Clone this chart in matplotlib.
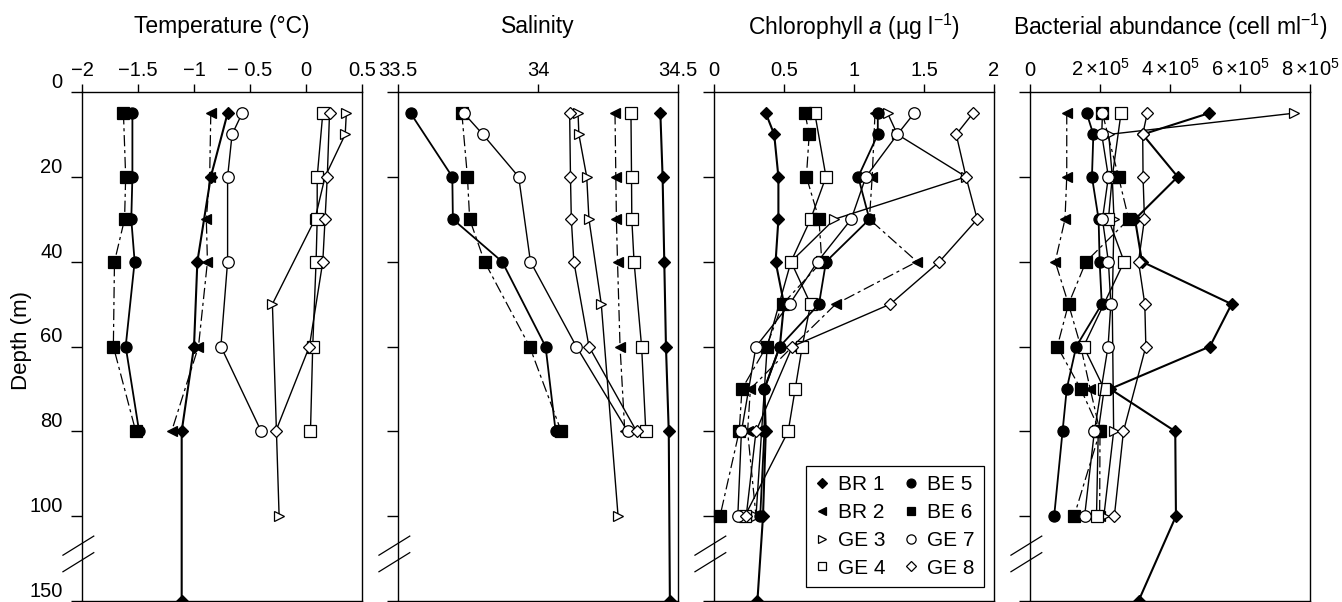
import numpy as np
import matplotlib
matplotlib.use('Agg')
import matplotlib.pyplot as plt
from matplotlib.lines import Line2D
import matplotlib.transforms as mtransforms

plt.rcParams['font.family'] = ['Liberation Sans', 'DejaVu Sans']
plt.rcParams['mathtext.fontset'] = 'custom'
plt.rcParams['mathtext.rm'] = 'Liberation Sans'
plt.rcParams['mathtext.it'] = 'Liberation Sans:italic'
plt.rcParams['axes.unicode_minus'] = True

nan = np.nan

# ---------------- data ----------------
stations = ['BR 1', 'BR 2', 'GE 3', 'GE 4', 'BE 5', 'BE 6', 'GE 7', 'GE 8']
depths = [5, 10, 20, 30, 40, 50, 60, 70, 80, 100, 150]

# Temperature (deg C)
temp_BR1 = [-0.70, nan, -0.85, nan, -0.97, nan, -1.00, nan, -1.11, nan, -1.11]
temp_BR2 = [-0.85, nan, -0.86, -0.89, -0.88, nan, -0.96, nan, -1.20, nan, nan]
temp_GE3 = [0.36, 0.35, 0.17, 0.08, nan, -0.30, nan, nan, nan, -0.24, nan]
temp_GE4 = [0.15, nan, 0.10, 0.10, 0.09, nan, 0.06, nan, 0.04, nan, nan]
temp_BE5 = [-1.55, nan, -1.55, -1.56, -1.53, nan, -1.61, nan, -1.49, nan, nan]
temp_BE6 = [-1.63, nan, -1.61, -1.62, -1.71, nan, -1.72, nan, -1.52, nan, nan]
temp_GE7 = [-0.57, -0.66, -0.70, nan, -0.70, nan, -0.76, nan, -0.40, nan, nan]
temp_GE8 = [0.21, nan, 0.19, 0.17, 0.15, nan, 0.03, nan, -0.27, nan, nan]

# Salinity
sal_BR1 = [34.437, nan, 34.445, nan, 34.451, nan, 34.457, nan, 34.467, nan, 34.471]
sal_BR2 = [34.275, nan, 34.278, 34.280, 34.284, nan, 34.293, nan, 34.310, nan, nan]
sal_GE3 = [34.143, 34.146, 34.174, 34.182, nan, 34.226, nan, nan, nan, 34.286, nan]
sal_GE4 = [34.332, nan, 34.334, 34.335, 34.343, nan, 34.370, nan, 34.385, nan, nan]
sal_BE5 = [33.545, nan, 33.694, 33.696, 33.872, nan, 34.027, nan, 34.063, nan, nan]
sal_BE6 = [33.728, nan, 33.748, 33.756, 33.809, nan, 33.970, nan, 34.083, nan, nan]
sal_GE7 = [33.735, 33.803, 33.931, nan, 33.973, nan, 34.137, nan, 34.320, nan, nan]
sal_GE8 = [34.113, nan, 34.116, 34.119, 34.128, nan, 34.182, nan, 34.352, nan, nan]

# Chlorophyll a (ug/l)
chl_BR1 = [0.37, 0.43, 0.46, 0.46, 0.44, 0.50, 0.47, 0.36, 0.37, 0.35, 0.31]
chl_BR2 = [1.15, nan, 1.13, 1.11, 1.45, 0.87, 0.56, 0.26, 0.24, 0.30, nan]
chl_GE3 = [1.24, 1.31, 1.80, 0.86, 0.55, nan, 0.38, nan, nan, 0.30, nan]
chl_GE4 = [0.72, nan, 0.80, 0.69, 0.55, 0.69, 0.63, 0.58, 0.53, 0.22, nan]
chl_BE5 = [1.17, 1.17, 1.03, 1.11, 0.80, 0.75, 0.47, 0.36, 0.36, 0.33, nan]
chl_BE6 = [0.65, 0.68, 0.66, 0.75, 0.77, 0.49, 0.375, 0.20, 0.18, 0.043, nan]
chl_GE7 = [1.43, 1.31, 1.085, 0.98, 0.74, 0.54, 0.30, nan, 0.196, 0.17, nan]
chl_GE8 = [1.85, 1.73, 1.80, 1.88, 1.61, 1.26, 0.56, nan, 0.30, 0.23, nan]

# Bacterial abundance (cells/ml)
bac_BR1 = [5.11e5, 3.22e5, 4.22e5, 3.0e5, 3.2e5, 5.76e5, 5.14e5, 2.29e5, 4.15e5, 4.17e5, 3.10e5]
bac_BR2 = [1.05e5, nan, 1.05e5, 1.0e5, 0.72e5, 1.10e5, 1.45e5, 1.72e5, 2.0e5, 1.99e5, nan]
bac_GE3 = [7.54e5, 2.25e5, 2.35e5, 2.40e5, nan, 2.35e5, nan, nan, 2.39e5, 2.11e5, nan]
bac_GE4 = [2.60e5, nan, 2.35e5, 2.24e5, 2.69e5, nan, 1.53e5, 2.12e5, 1.95e5, 1.90e5, nan]
bac_BE5 = [1.62e5, 1.81e5, 1.77e5, 1.96e5, 1.99e5, 2.05e5, 1.32e5, 1.05e5, 0.93e5, 0.69e5, nan]
bac_BE6 = [2.07e5, nan, 2.53e5, 2.82e5, 1.60e5, 1.10e5, 0.78e5, 1.45e5, 2.00e5, 1.26e5, nan]
bac_GE7 = [2.07e5, 2.05e5, 2.24e5, 2.07e5, 2.24e5, 2.31e5, 2.23e5, nan, 1.84e5, 1.56e5, nan]
bac_GE8 = [3.35e5, 3.22e5, 3.23e5, 3.27e5, 3.10e5, 3.28e5, 3.31e5, nan, 2.67e5, 2.41e5, nan]

panels = [
    ('Temperature (°C)', [temp_BR1, temp_BR2, temp_GE3, temp_GE4, temp_BE5, temp_BE6, temp_GE7, temp_GE8],
     (-2, 0.5), [-2, -1.5, -1, -0.5, 0, 0.5], ['\u22122', '\u22121.5', '\u22121', '\u2212 0.5', '0', '0.5']),
    ('Salinity', [sal_BR1, sal_BR2, sal_GE3, sal_GE4, sal_BE5, sal_BE6, sal_GE7, sal_GE8],
     (33.5, 34.5), [33.5, 34, 34.5], ['33.5', '34', '34.5']),
    ('Chlorophyll $a$ (µg l$^{\u22121}$)', [chl_BR1, chl_BR2, chl_GE3, chl_GE4, chl_BE5, chl_BE6, chl_GE7, chl_GE8],
     (0, 2), [0, 0.5, 1, 1.5, 2], ['0', '0.5', '1', '1.5', '2']),
    ('Bacterial abundance (cell ml$^{\u22121}$)', [bac_BR1, bac_BR2, bac_GE3, bac_GE4, bac_BE5, bac_BE6, bac_GE7, bac_GE8],
     (0, 8e5), [0, 2e5, 4e5, 6e5, 8e5],
     ['0', r'$2\times\!10^{5}$', r'$4\times\!10^{5}$', r'$6\times\!10^{5}$', r'$8\times\!10^{5}$']),
]

depth_ticks = [0, 20, 40, 60, 80, 100, 150]

# ---------------- styling ----------------
dash = (0, (9, 3, 2.5, 3))
styles = {
    'BR 1': dict(marker='D', mfc='k', ms=6.2, ls='-', lw=1.5),
    'BR 2': dict(marker='<', mfc='k', ms=7.5, ls=dash, lw=0.9),
    'GE 3': dict(marker='>', mfc='w', ms=7.5, ls='-', lw=1.0),
    'GE 4': dict(marker='s', mfc='w', ms=8.0, ls='-', lw=1.0),
    'BE 5': dict(marker='o', mfc='k', ms=8.0, ls='-', lw=1.3),
    'BE 6': dict(marker='s', mfc='k', ms=8.0, ls=dash, lw=0.9),
    'GE 7': dict(marker='o', mfc='w', ms=8.3, ls='-', lw=1.0),
    'GE 8': dict(marker='D', mfc='w', ms=6.2, ls='-', lw=1.0),
}


def tr_depth(d):
    d = np.asarray(d, dtype=float)
    return np.where(d <= 100, d, 100 + (d - 100) * 0.4)


W, H = 1342, 602
fig = plt.figure(figsize=(W / 100, H / 100), dpi=100)
lefts = [82, 398, 714, 1030]
pw = 280
top_px, bot_px = 92, 601

axes = []
for i, (title, series, xlim, xt, xtl) in enumerate(panels):
    ax = fig.add_axes([lefts[i] / W, (H - bot_px) / H, pw / W, (bot_px - top_px) / H])
    axes.append(ax)
    for name, vals in zip(stations, series):
        v = np.asarray(vals, dtype=float)
        d = np.asarray(depths, dtype=float)
        m = ~np.isnan(v)
        st = styles[name]
        ax.plot(v[m], tr_depth(d[m]), color='k', linestyle=st['ls'], lw=st['lw'],
                marker=st['marker'], ms=st['ms'], mfc=st['mfc'], mec='k', mew=0.9,
                clip_on=False, zorder=3)
    ax.set_xlim(*xlim)
    ax.set_ylim(tr_depth(150), 0)
    ax.xaxis.tick_top()
    ax.set_xticks(xt)
    ax.set_xticklabels(xtl)
    ax.set_yticks(tr_depth(depth_ticks))
    if i == 0:
        ax.set_yticklabels([str(t) for t in depth_ticks])
        off = mtransforms.ScaledTranslation(0, 2 / 72, fig.dpi_scale_trans)
        for lab in ax.get_yticklabels():
            lab.set_verticalalignment('bottom')
            lab.set_transform(lab.get_transform() + off)
    else:
        ax.set_yticklabels([])
    ax.tick_params(axis='x', direction='out', length=6, width=1.0, pad=3, labelsize=14.5)
    ax.tick_params(axis='y', direction='out', length=8, width=1.0, pad=6, labelsize=14.5)
    for sp in ax.spines.values():
        sp.set_linewidth(1.0)
    # axis break marks
    bt = mtransforms.blended_transform_factory(ax.transAxes, ax.transData)
    for y0 in (0.0, 3.9):
        ax.plot([-0.068, 0.042], [109.2 + y0, 104.7 + y0], color='k', lw=0.9,
                transform=bt, clip_on=False)
    cx = (lefts[i] + pw / 2) / W
    fig.text(cx, (H - 27) / H, title, ha='center', va='center', fontsize=16.5)

fig.text(22 / W, (H - 341) / H, 'Depth (m)', rotation=90, ha='center', va='center', fontsize=16)

handles = []
for name in stations:
    st = styles[name]
    handles.append(Line2D([], [], ls='none', marker=st['marker'], ms=st['ms'] * 0.8,
                          mfc=st['mfc'], mec='k', mew=0.9, color='k', label=name))
leg = axes[2].legend(handles, stations, ncol=2,
                     loc='lower right', bbox_to_anchor=(0.964, 0.0275), fontsize=15,
                     frameon=True, fancybox=False, edgecolor='k', framealpha=1,
                     handlelength=0.7, handletextpad=0.4, columnspacing=0.9,
                     labelspacing=0.42, borderpad=0.45, borderaxespad=0)
leg.get_frame().set_linewidth(0.9)

fig.savefig('out.png', dpi=100)
